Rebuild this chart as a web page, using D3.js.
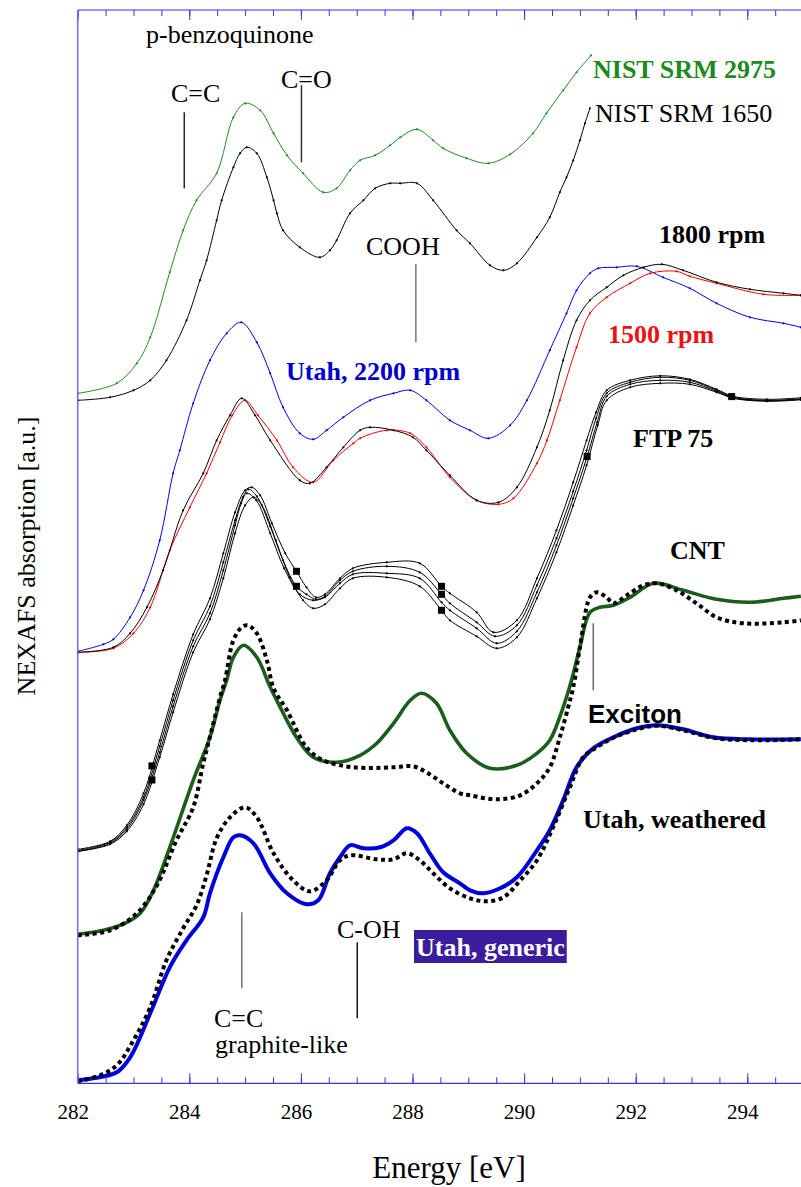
<!DOCTYPE html>
<html>
<head>
<meta charset="utf-8">
<script src="https://cdn.jsdelivr.net/npm/d3@7/dist/d3.min.js"></script>
<style>
  html, body { margin: 0; padding: 0; background: #fff; }
  svg { display: block; }
</style>
</head>
<body>
<svg id="chart" width="801" height="1187"></svg>
<script>
// ---- Spectra: [photon energy (eV), NEXAFS absorption (a.u., stacked offsets)] ----

// p-benzoquinone references
const nist2975 = [[282.01,69.0],[282.70,70.0],[283.06,72.0],[283.30,74.6],[283.65,81.1],[283.89,85.3],[284.13,88.3],[284.49,91.0],[284.79,96.6],[285.00,98.0],[285.27,97.3],[285.51,95.0],[285.75,92.8],[286.04,91.0],[286.40,89.1],[286.64,89.5],[286.88,91.3],[287.06,92.3],[287.33,92.8],[287.60,93.8],[287.78,94.6],[288.08,95.4],[288.37,94.3],[288.55,93.5],[288.97,92.5],[289.36,92.0],[289.75,92.9],[290.16,95.0],[290.40,97.0],[290.70,99.3],[290.94,101.1],[291.20,102.8]];
const nist1650 = [[282.01,68.3],[282.58,68.6],[283.00,69.3],[283.30,70.3],[283.59,72.3],[283.95,76.3],[284.19,80.3],[284.31,82.3],[284.49,86.3],[284.58,88.3],[284.79,91.6],[284.91,93.0],[285.03,93.6],[285.21,93.0],[285.39,90.6],[285.51,88.3],[285.57,87.0],[285.68,85.3],[285.98,83.6],[286.34,82.6],[286.52,83.3],[286.64,84.3],[286.88,87.0],[287.12,88.3],[287.33,89.5],[287.60,90.0],[287.78,90.0],[288.08,90.0],[288.37,88.3],[288.79,85.3],[289.03,84.0],[289.39,81.8],[289.63,81.3],[289.87,82.0],[290.23,84.6],[290.46,86.6],[290.64,89.1],[290.76,90.6],[290.88,92.3],[291.00,94.3],[291.09,96.0],[291.18,97.5]];

// Engine soot, Utah dynamometer
const utah2200 = [[282.01,43.2],[282.46,43.9],[282.64,44.4],[282.94,46.6],[283.18,49.3],[283.47,54.3],[283.71,61.0],[283.83,63.3],[284.07,68.0],[284.37,72.3],[284.67,75.0],[284.93,76.1],[285.21,74.1],[285.45,71.0],[285.68,67.6],[285.98,65.0],[286.22,64.4],[286.46,65.3],[286.76,66.6],[287.24,68.3],[287.66,69.0],[287.96,69.3],[288.25,68.3],[288.67,66.3],[289.03,65.3],[289.36,64.5],[289.75,65.8],[290.05,68.3],[290.46,73.3],[290.76,77.0],[290.94,79.3],[291.18,81.0],[291.33,81.5],[291.66,81.6],[292.02,81.7],[292.49,80.6],[292.97,79.5],[293.45,78.0],[294.05,76.6],[294.65,76.0],[294.96,75.6]];
const rpm1800 = [[282.01,43.1],[282.64,43.6],[282.94,45.0],[283.24,47.6],[283.53,51.3],[283.89,57.3],[284.25,61.0],[284.49,64.3],[284.73,66.8],[284.94,68.5],[285.18,66.8],[285.45,64.3],[285.98,60.3],[286.16,60.0],[286.46,61.6],[286.76,63.6],[287.06,65.3],[287.24,65.6],[287.66,65.3],[288.01,64.6],[288.25,63.3],[288.67,60.8],[289.15,58.3],[289.54,58.1],[289.87,59.6],[290.23,63.6],[290.46,67.3],[290.70,72.3],[290.94,76.3],[291.18,78.3],[291.48,79.6],[291.78,80.8],[292.14,81.6],[292.47,81.9],[292.85,81.3],[293.45,80.1],[294.05,79.4],[294.65,79.0],[294.96,78.8]];
const rpm1500 = [[282.01,43.1],[282.64,43.5],[283.00,45.0],[283.30,47.6],[283.65,53.3],[284.01,57.6],[284.31,61.0],[284.55,64.1],[284.77,66.8],[285.00,68.3],[285.23,66.8],[285.57,64.3],[285.86,61.6],[286.22,60.1],[286.58,62.3],[286.94,64.0],[287.06,64.5],[287.54,65.3],[287.96,65.0],[288.25,63.6],[288.67,60.6],[289.15,58.3],[289.54,57.9],[289.81,58.5],[290.23,62.0],[290.41,64.3],[290.64,68.3],[290.94,73.6],[291.18,77.0],[291.48,78.6],[291.90,80.0],[292.26,81.0],[292.73,81.2],[292.97,80.7],[293.45,80.0],[294.29,78.9],[294.96,78.8]];

// FTP 75 cycle, four samples
const ftpA = [[282.01,23.4],[282.58,24.2],[282.88,25.8],[283.18,29.0],[283.47,34.3],[283.71,38.9],[284.07,44.9],[284.37,48.5],[284.61,53.0],[284.82,57.1],[285.00,59.3],[285.12,59.6],[285.27,58.8],[285.48,56.0],[285.72,53.0],[285.92,51.2],[286.10,49.6],[286.27,48.6],[286.43,48.9],[286.70,50.5],[286.93,51.5],[287.54,52.1],[288.13,52.0],[288.52,49.7],[288.67,49.0],[289.15,47.1],[289.45,45.1],[289.87,46.3],[290.23,50.5],[290.58,55.3],[290.88,60.1],[291.12,64.3],[291.29,67.1],[291.48,69.3],[291.90,70.3],[292.44,70.75],[292.97,70.4],[293.45,69.4],[293.75,68.7],[294.35,68.4],[294.96,68.55]];
const ftpB = [[282.01,23.3],[282.58,24.1],[282.88,25.6],[283.18,28.6],[283.47,33.7],[283.71,38.3],[284.07,44.3],[284.37,47.7],[284.61,52.1],[284.82,56.3],[284.96,58.6],[285.06,59.4],[285.21,58.7],[285.45,55.7],[285.68,52.3],[285.92,49.7],[286.10,48.9],[286.27,48.4],[286.43,48.7],[286.70,50.3],[286.93,51.2],[287.54,51.7],[288.13,51.1],[288.52,48.9],[288.67,48.0],[289.15,46.1],[289.48,44.7],[289.87,45.8],[290.23,49.8],[290.58,54.5],[290.88,59.2],[291.12,63.3],[291.29,66.5],[291.48,69.0],[291.90,70.1],[292.44,70.6],[292.97,70.3],[293.45,69.3],[293.75,68.6],[294.35,68.3],[294.96,68.45]];
const ftpC = [[282.01,23.2],[282.58,24.0],[282.88,25.4],[283.18,28.3],[283.47,33.1],[283.71,37.7],[284.07,43.7],[284.37,47.0],[284.61,51.3],[284.82,55.8],[284.93,58.0],[285.03,59.0],[285.20,58.3],[285.45,55.0],[285.70,51.5],[285.98,48.9],[286.22,48.3],[286.43,48.6],[286.70,50.0],[286.93,50.9],[287.54,51.0],[288.13,50.5],[288.52,48.1],[288.67,47.3],[289.15,45.5],[289.51,44.0],[289.87,45.2],[290.23,49.1],[290.58,53.8],[290.88,58.5],[291.12,62.5],[291.31,66.1],[291.48,68.7],[291.90,69.9],[292.44,70.3],[292.97,70.1],[293.45,69.2],[293.75,68.55],[294.35,68.25],[294.96,68.4]];
const ftpD = [[282.01,23.2],[282.58,23.9],[282.88,25.2],[283.18,27.9],[283.47,32.6],[283.71,37.1],[284.07,43.1],[284.37,46.4],[284.61,50.5],[284.82,55.0],[285.00,57.8],[285.15,58.6],[285.30,57.8],[285.55,54.3],[285.80,50.6],[286.04,48.3],[286.22,47.5],[286.43,47.9],[286.70,49.5],[286.93,50.5],[287.54,50.6],[288.13,49.7],[288.52,47.3],[288.67,46.3],[289.15,44.7],[289.51,43.5],[289.87,44.6],[290.23,48.5],[290.58,53.1],[290.88,57.8],[291.12,61.8],[291.32,65.8],[291.48,68.3],[291.90,69.6],[292.44,70.0],[292.97,69.9],[293.45,69.1],[293.75,68.5],[294.35,68.2],[294.96,68.35]];
// sample points flagged with square symbols: [series, energy]
const ftpSquares = [["A",285.92],["B",285.92],["A",288.52],["B",288.52],["D",288.52],["A",283.33],["D",283.33],["C",291.13],["B",293.72]];

// Carbon nanotubes
const cntGreen = [[282.00,14.9],[282.46,15.3],[282.88,16.1],[283.12,17.0],[283.35,19.2],[283.65,23.6],[284.07,30.3],[284.37,34.6],[284.55,38.3],[284.67,40.3],[284.79,42.6],[284.97,43.8],[285.21,42.6],[285.45,39.6],[285.63,37.6],[285.92,34.6],[286.22,32.6],[286.64,32.1],[287.06,32.8],[287.36,34.0],[287.66,36.0],[287.96,38.3],[288.16,39.0],[288.43,38.0],[288.67,35.3],[288.97,33.0],[289.39,31.5],[289.87,31.8],[290.23,33.0],[290.46,34.3],[290.70,37.6],[290.85,40.3],[291.00,43.6],[291.18,47.1],[291.36,47.6],[291.60,47.8],[291.90,48.6],[292.32,50.0],[292.85,49.3],[293.45,48.4],[294.05,48.1],[294.65,48.5],[294.96,48.7]];
const cntDotted = [[282.00,14.8],[282.58,15.3],[283.06,17.0],[283.42,19.8],[283.77,24.3],[284.07,27.6],[284.25,32.0],[284.40,35.3],[284.55,38.6],[284.64,40.3],[284.79,44.3],[284.94,45.6],[285.05,45.8],[285.21,45.0],[285.39,42.3],[285.51,39.5],[285.75,37.3],[286.10,33.6],[286.40,32.3],[286.94,31.6],[287.66,31.6],[288.01,31.7],[288.25,31.1],[288.55,30.0],[288.85,29.0],[289.03,28.8],[289.51,28.4],[289.93,28.8],[290.23,30.0],[290.46,31.6],[290.64,34.6],[290.79,37.6],[290.88,39.6],[291.00,43.6],[291.12,47.6],[291.18,48.6],[291.30,49.1],[291.48,48.6],[291.60,48.0],[291.84,48.8],[292.14,49.8],[292.38,50.0],[292.73,49.3],[293.09,48.0],[293.45,46.6],[293.93,46.0],[294.65,46.1],[294.96,46.3]];

// Utah soot, weathered vs generic
const weatheredBlue = [[282.00,0.3],[282.28,0.5],[282.70,1.1],[282.94,2.6],[283.30,7.0],[283.65,11.6],[283.95,14.3],[284.25,16.6],[284.37,19.0],[284.61,22.6],[284.79,24.6],[284.91,24.8],[285.15,24.0],[285.45,21.0],[285.75,19.0],[286.10,17.9],[286.31,18.3],[286.52,21.0],[286.70,22.6],[286.88,23.8],[287.12,23.5],[287.42,23.6],[287.66,24.3],[287.90,25.5],[288.08,25.0],[288.31,23.0],[288.55,21.1],[288.85,20.0],[289.03,19.3],[289.27,19.0],[289.57,19.5],[289.87,20.6],[290.23,23.3],[290.46,25.3],[290.70,28.3],[290.94,31.6],[291.24,33.5],[291.60,34.6],[292.02,35.5],[292.38,35.8],[292.85,35.4],[293.39,34.6],[294.05,34.4],[294.96,34.4]];
const weatheredDotted = [[282.00,0.2],[282.40,0.8],[282.70,1.8],[283.00,4.3],[283.30,7.6],[283.59,12.3],[283.89,15.5],[284.13,17.8],[284.31,20.8],[284.49,24.5],[284.73,26.6],[285.00,27.6],[285.21,26.6],[285.51,23.0],[285.86,20.3],[286.16,19.2],[286.46,20.3],[286.70,22.3],[286.88,22.8],[287.36,22.4],[287.66,22.4],[287.90,23.0],[288.13,22.3],[288.37,21.0],[288.67,19.5],[289.03,18.5],[289.33,18.2],[289.63,18.6],[289.93,20.3],[290.23,22.3],[290.52,25.6],[290.82,29.6],[291.06,32.6],[291.30,33.6],[291.60,34.55],[292.02,35.4],[292.38,35.75],[292.85,35.3],[293.39,34.55],[294.05,34.3],[294.96,34.4]];

// ---- Axis ticks ----
const xMajorTicks = [282, 284, 286, 288, 290, 292, 294];
const xMinorTicks = d3.range(282, 295.01, 0.5);

// ---- Peak assignments: energy, vertical extent of the marker line ----
const peakLines = [
  { energy: 283.91, from: 97.1, to: 89.5, color: "#222" },   // C=C (benzoquinone)
  { energy: 286.01, from: 99.8, to: 92.1, color: "#333" },   // C=O
  { energy: 288.06, from: 81.9, to: 74.1, color: "#777" },   // COOH
  { energy: 291.24, from: 46.0, to: 39.3, color: "#666" },   // exciton
  { energy: 284.94, from: 17.1, to: 9.5,  color: "#777" },   // C=C graphite-like
  { energy: 287.01, from: 14.1, to: 6.5,  color: "#111" }    // C-OH
];

// ---- Scales ----
const SERIF = "'Liberation Serif', 'Times New Roman', Times, serif";
const SANS = "'Liberation Sans', Arial, Helvetica, sans-serif";
const svg = d3.select("#chart").attr("font-family", SERIF);
const x = d3.scaleLinear().domain([282, 295]).range([77.7, 803.1]);
const y = d3.scaleLinear().domain([0, 107.33]).range([1083.3, 10]);

const line = d3.line()
  .x(d => x(d[0]))
  .y(d => y(d[1]))
  .curve(d3.curveCatmullRom.alpha(0.5));

svg.append("defs").append("clipPath").attr("id", "plot")
  .append("rect").attr("x", 70).attr("y", 10).attr("width", 740).attr("height", 1075);

const plot = svg.append("g").attr("clip-path", "url(#plot)");

// thin spectra with small point symbols
const thinSeries = [
  { data: nist2975, color: "#228b22" },
  { data: nist1650, color: "#000" },
  { data: utah2200, color: "#0000ee" },
  { data: rpm1500,  color: "#ff0000" },
  { data: rpm1800,  color: "#000" },
  { data: ftpD, color: "#000" },
  { data: ftpC, color: "#000" },
  { data: ftpB, color: "#000" },
  { data: ftpA, color: "#000" }
];
thinSeries.forEach(s => {
  plot.append("path").datum(s.data)
    .attr("fill", "none").attr("stroke", s.color).attr("stroke-width", 1)
    .attr("d", line);
  plot.append("g").selectAll("circle").data(s.data).join("circle")
    .attr("cx", d => x(d[0])).attr("cy", d => y(d[1])).attr("r", 1.1)
    .attr("fill", s.color);
});

// square symbols on the FTP samples, placed on the interpolated curve
const ftpByName = { A: ftpA, B: ftpB, C: ftpC, D: ftpD };
function valueAt(series, e) {
  const i = d3.bisector(d => d[0]).left(series, e);
  const a = series[Math.max(0, i - 1)], b = series[Math.min(series.length - 1, i)];
  if (a[0] === b[0]) return a[1];
  return a[1] + (b[1] - a[1]) * (e - a[0]) / (b[0] - a[0]);
}
plot.append("g").selectAll("rect").data(ftpSquares).join("rect")
  .attr("x", d => x(d[1]) - 3.5)
  .attr("y", d => y(valueAt(ftpByName[d[0]], d[1])) - 3.5)
  .attr("width", 7).attr("height", 7).attr("fill", "#000");

// thick spectra: CNT and weathered/generic Utah pairs
const thickSeries = [
  { data: cntGreen, color: "#1b5e1b", width: 3.6, dash: null },
  { data: cntDotted, color: "#000", width: 4, dash: "4,3.5" },
  { data: weatheredBlue, color: "#0000dd", width: 4, dash: null },
  { data: weatheredDotted, color: "#000", width: 4, dash: "4,3.5" }
];
thickSeries.forEach(s => {
  plot.append("path").datum(s.data)
    .attr("fill", "none").attr("stroke", s.color).attr("stroke-width", s.width)
    .attr("stroke-dasharray", s.dash).attr("stroke-linejoin", "round")
    .attr("d", line);
});

// ---- Peak assignment lines ----
svg.append("g").selectAll("line").data(peakLines).join("line")
  .attr("x1", d => x(d.energy)).attr("x2", d => x(d.energy))
  .attr("y1", d => y(d.from)).attr("y2", d => y(d.to))
  .attr("stroke", d => d.color).attr("stroke-width", 1.5);

// ---- Axes ----
const axisColor = "#3535e6";
const bottomMinor = svg.append("g").attr("transform", `translate(0,${y(0)})`)
  .call(d3.axisTop(x).tickValues(xMinorTicks).tickSize(6).tickFormat(""));
const bottomMajor = svg.append("g").attr("transform", `translate(0,${y(0)})`)
  .call(d3.axisTop(x).tickValues(xMajorTicks).tickSize(10).tickFormat(""));
const topMinor = svg.append("g").attr("transform", `translate(0,${y(107.33)})`)
  .call(d3.axisBottom(x).tickValues(xMinorTicks).tickSize(6).tickFormat(""));
const topMajor = svg.append("g").attr("transform", `translate(0,${y(107.33)})`)
  .call(d3.axisBottom(x).tickValues(xMajorTicks).tickSize(10).tickFormat(""));
[bottomMinor, bottomMajor, topMinor, topMajor].forEach(g => {
  g.selectAll("line").attr("stroke", axisColor);
  g.select(".domain").attr("stroke", axisColor).attr("d", null);
});
[y(0), y(107.33)].forEach(py => {
  svg.append("line").attr("x1", x(282)).attr("x2", 801).attr("y1", py).attr("y2", py)
    .attr("stroke", axisColor).attr("stroke-width", 1.2);
});
svg.append("line").attr("x1", x(282)).attr("x2", x(282)).attr("y1", y(107.33)).attr("y2", y(0))
  .attr("stroke", "#7272ec").attr("stroke-width", 1.6);

// tick labels
svg.append("g").selectAll("text").data(xMajorTicks).join("text")
  .attr("x", d => x(d) - 4.5).attr("y", 1119)
  .attr("font-family", SERIF)
  .attr("text-anchor", "middle").attr("font-size", 21).attr("fill", "#000")
  .text(d => d);

// axis titles
svg.append("text").attr("x", 449).attr("y", 1178).attr("text-anchor", "middle")
  .attr("font-family", SERIF).attr("font-size", 31).text("Energy [eV]");
svg.append("text").attr("transform", "translate(34.5,556) rotate(-90)")
  .attr("font-family", SERIF)
  .attr("text-anchor", "middle").attr("font-size", 26).text("NEXAFS absorption [a.u.]");

// ---- Labels ----
const labels = [
  { t: "p-benzoquinone", x: 146, y: 43, w: "normal", c: "#000" },
  { t: "C=C", x: 171, y: 101.5, w: "normal", c: "#000" },
  { t: "C=O", x: 281, y: 88, w: "normal", c: "#000" },
  { t: "NIST SRM 2975", x: 593, y: 78, w: "bold", c: "#1e8a1e" },
  { t: "NIST SRM 1650", x: 595, y: 121.5, w: "normal", c: "#000" },
  { t: "COOH", x: 366, y: 255, w: "normal", c: "#000" },
  { t: "1800 rpm", x: 659, y: 242.5, w: "bold", c: "#000" },
  { t: "1500 rpm", x: 608, y: 343, w: "bold", c: "#ee1111" },
  { t: "Utah, 2200 rpm", x: 286, y: 380, w: "bold", c: "#0000cc" },
  { t: "FTP 75", x: 633, y: 447, w: "bold", c: "#000" },
  { t: "CNT", x: 670, y: 559, w: "bold", c: "#000" },
  { t: "Exciton", x: 588, y: 723, w: "bold", c: "#000", f: SANS },
  { t: "Utah, weathered", x: 583, y: 828, w: "bold", c: "#000" },
  { t: "C-OH", x: 337, y: 938, w: "normal", c: "#000" },
  { t: "C=C", x: 214, y: 1026.5, w: "normal", c: "#000" },
  { t: "graphite-like", x: 215, y: 1053, w: "normal", c: "#000" }
];
svg.append("g").selectAll("text").data(labels).join("text")
  .attr("x", d => d.x).attr("y", d => d.y)
  .attr("font-size", 26).attr("font-weight", d => d.w)
  .attr("font-family", d => d.f || SERIF)
  .attr("fill", d => d.c).text(d => d.t);

// boxed label for the generic Utah soot
const boxG = svg.append("g");
const boxRect = boxG.append("rect").attr("fill", "#3b1c9c");
const boxText = boxG.append("text").attr("x", 416).attr("y", 956)
  .attr("font-family", SERIF)
  .attr("font-size", 26).attr("font-weight", "bold").attr("fill", "#fff")
  .text("Utah, generic");
const bb = boxText.node().getBBox();
boxRect.attr("x", 414).attr("y", 930).attr("width", bb.width + 4).attr("height", 33);
</script>
</body>
</html>
